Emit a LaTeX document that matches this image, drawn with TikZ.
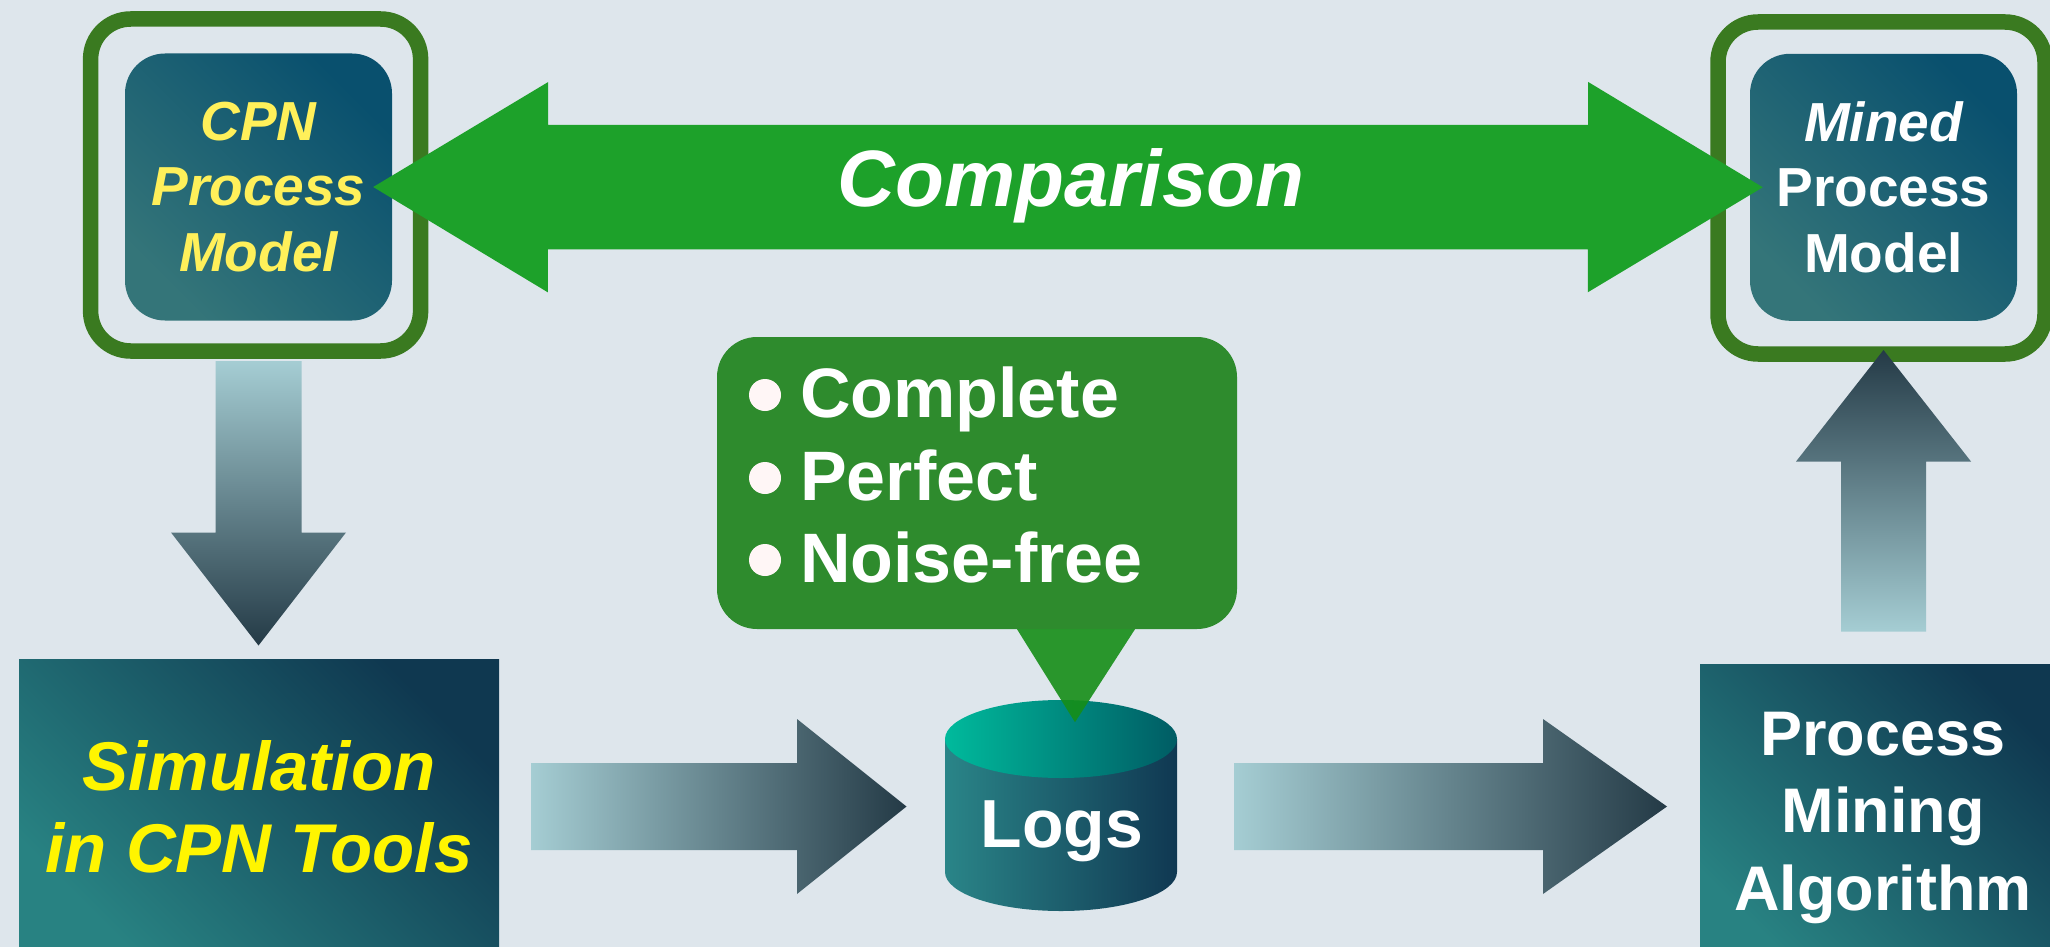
\documentclass[tikz,border=0pt]{standalone}
\usepackage{fontspec}
\setmainfont{Liberation Sans}
\usetikzlibrary{calc}

\definecolor{bgcol}{RGB}{222,230,236}
\definecolor{framegreen}{RGB}{58,122,32}
\definecolor{boxdark}{RGB}{9,80,110}
\definecolor{boxlight}{RGB}{52,117,121}
\definecolor{simdark}{RGB}{15,56,80}
\definecolor{simlight}{RGB}{40,130,130}
\definecolor{cmpgreen}{RGB}{29,161,42}
\definecolor{notegreen}{RGB}{46,139,45}
\definecolor{pointgreen}{RGB}{22,142,24}
\definecolor{arrlight}{RGB}{165,205,211}
\definecolor{arrdark}{RGB}{36,58,70}
\definecolor{cpnyellow}{RGB}{255,240,90}
\definecolor{simyellow}{RGB}{255,245,0}
\definecolor{cyltopL}{RGB}{0,186,156}
\definecolor{cyltopR}{RGB}{0,92,100}
\definecolor{cylL}{RGB}{42,133,136}
\definecolor{cylR}{RGB}{16,56,82}
\definecolor{bulletwhite}{RGB}{255,246,246}

\tikzset{modelframe/.style={draw=framegreen,line width=15.5pt,rounded corners=40pt,minimum width=#1,minimum height=332pt},modelframe/.default=330pt}
\tikzset{modelbox/.style={rounded corners=40pt,minimum width=267pt,minimum height=267pt,top color=boxdark,bottom color=boxlight,shading angle=-45,align=center,inner sep=0pt,font=\bfseries\fontsize{55pt}{65.5pt}\selectfont}}
\tikzset{stepbox/.style={top color=simdark,bottom color=simlight,shading angle=-45,align=center,inner sep=0pt,minimum width=#1},stepbox/.default=480pt}
\tikzset{flow/.style={left color=arrlight,right color=arrdark}}
\tikzset{flowdown/.style={top color=arrlight,bottom color=arrdark}}
\tikzset{flowup/.style={top color=arrdark,bottom color=arrlight}}
\tikzset{item/.style={text=white,font=\bfseries\fontsize{70pt}{82pt}\selectfont,anchor=base west,inner sep=0pt}}

\begin{document}
\begin{tikzpicture}[x=1pt,y=1pt]
	\fill[bgcol] (0,0) rectangle (2050,-947);
	\useasboundingbox (0,0) rectangle (2050,-947);

	% Os dois modelos
	\node[modelframe] (cpnf) at (255.6,-185) {};
	\node[modelbox,text=cpnyellow,font=\bfseries\itshape\fontsize{55pt}{65.5pt}\selectfont] (cpn) at (258.5,-187) {CPN\\Process\\Model};
	\node[modelframe=327pt] (minedf) at (1881.5,-188) {};
	\node[modelbox,text=white] (mined) at (1883.5,-187.3) {{\itshape Mined}\\Process\\Model};

	% Seta dupla da comparacao
	\coordinate (cmpl) at ([xshift=-19pt]cpn.east);
	\coordinate (cmpr) at ([xshift=13pt]mined.west);
	\fill[cmpgreen] (cmpl) -- ++(175,105) -- ++(0,-43) -- ++(1040,0) -- ++(0,43) --
		(cmpr) -- ++(-175,-105) -- ++(0,43) -- ++(-1040,0) -- ++(0,-43) -- cycle;
	\node[text=white,font=\bfseries\itshape\fontsize{80pt}{90pt}\selectfont,anchor=base] (cmp) at (1071,-206.5) {Comparison};

	% Simulacao
	\coordinate (d1s) at (258.5,-361);
	\coordinate (d1e) at (258.5,-645.5);
	\shade[flowdown] (d1s) ++(-43,0) -- ++(0,-171.5) -- ++(-44.5,0) -- (d1e) --
		++(87.5,113) -- ++(-44.5,0) -- ++(0,171.5) -- cycle;
	\node[stepbox,text=simyellow,font=\bfseries\itshape\fontsize{69pt}{82pt}\selectfont,minimum height=295pt] (sim) at (259,-806.5) {Simulation\\in CPN Tools};

	\coordinate (a1s) at (531,-806.5);
	\coordinate (a1e) at (906.5,-806.5);
	\shade[flow] (a1s) ++(0,43.5) -- ++(266,0) -- ++(0,44) -- (a1e) --
		++(-109.5,-87.5) -- ++(0,44) -- ++(-266,0) -- cycle;

	% Os logs
	\shade[left color=cylL,right color=cylR] (945,-739) -- (945,-872)
		arc[start angle=180,end angle=360,x radius=116,y radius=39] -- (1177,-739) -- cycle;
	\shade[left color=cyltopL,right color=cyltopR] (1061,-739) ellipse[x radius=116,y radius=39];
	\node[text=white,font=\bfseries\fontsize{68pt}{80pt}\selectfont,anchor=base] (logs) at (1062,-847) {Logs};

	% Balao
	\node[fill=notegreen,rounded corners=40pt,minimum width=520pt,minimum height=292pt] (note) at (977,-483) {};
	\fill[bulletwhite] (765,-395) circle (16pt);
	\node[item] (i1) at (800,-417) {Complete};
	\fill[bulletwhite] (765,-478) circle (16pt);
	\node[item] (i2) at (800,-500) {Perfect};
	\fill[bulletwhite] (765,-560) circle (16pt);
	\node[item] (i3) at (800,-582) {Noise-free};
	\fill[pointgreen,opacity=0.9] ([xshift=40pt]note.south) -- ([xshift=158pt]note.south) --
		([xshift=98pt,yshift=-93pt]note.south) -- cycle;

	% Mineracao
	\coordinate (a2s) at (1234,-806.5);
	\coordinate (a2e) at (1667,-806.5);
	\shade[flow] (a2s) ++(0,43.5) -- ++(309,0) -- ++(0,44) -- (a2e) --
		++(-124,-87.5) -- ++(0,44) -- ++(-309,0) -- cycle;
	\node[stepbox=366pt,text=white,font=\bfseries\fontsize{63pt}{77.5pt}\selectfont,minimum height=307pt] (pm) at (1883,-817.5) {Process\\Mining\\Algorithm};

	\coordinate (u1s) at (1883.5,-631.5);
	\coordinate (u1e) at (1883.5,-350);
	\shade[flowup] (u1s) ++(-42.5,0) -- ++(0,170) -- ++(-45,0) -- (u1e) --
		++(87.5,-111.5) -- ++(-45,0) -- ++(0,-170) -- cycle;
\end{tikzpicture}
\end{document}
